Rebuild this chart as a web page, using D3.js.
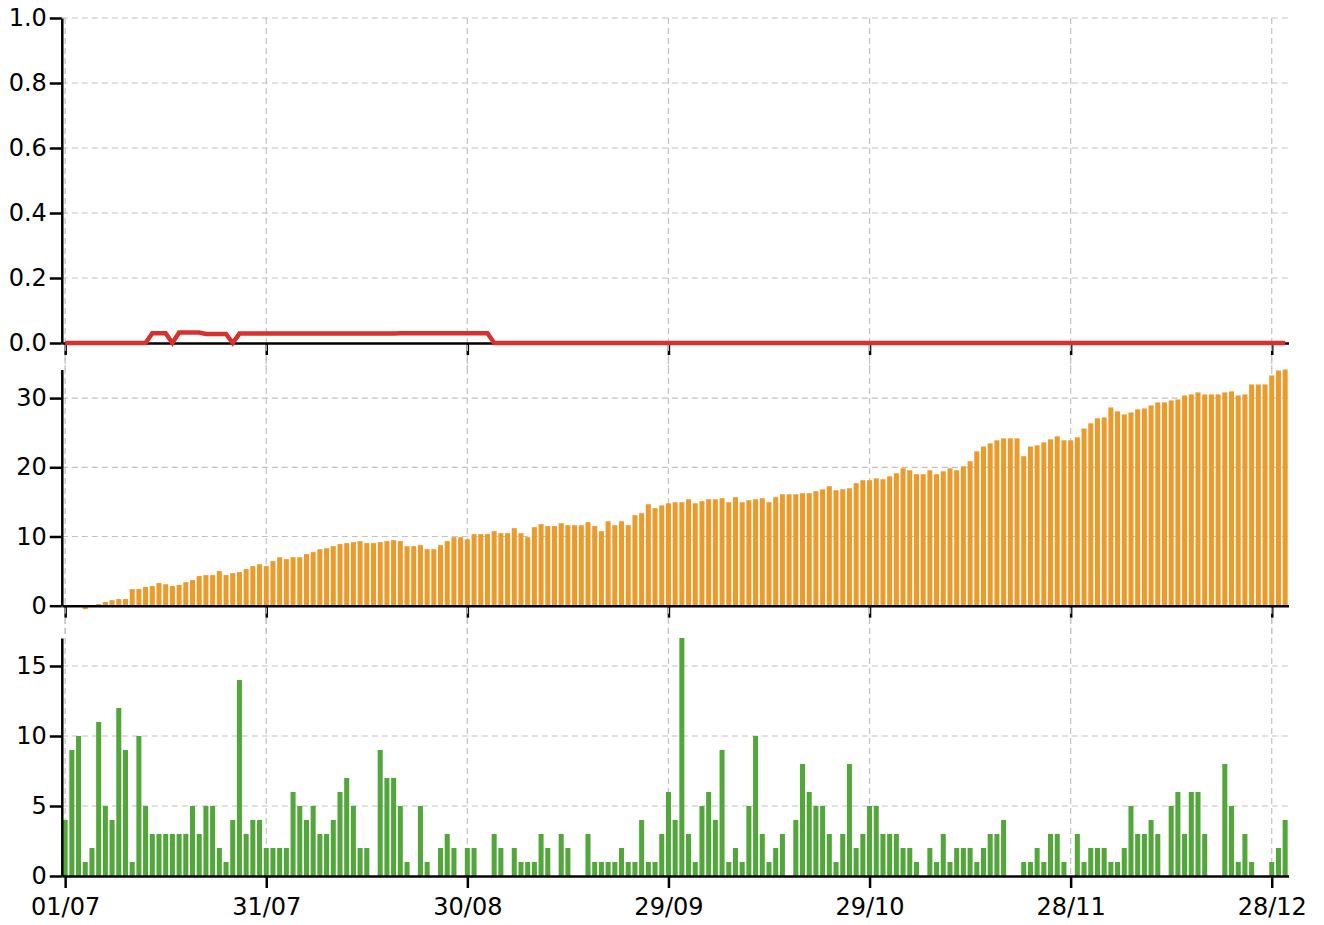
<!DOCTYPE html>
<html>
<head>
<meta charset="utf-8">
<script src="https://cdn.jsdelivr.net/npm/d3@7"></script>
<style>
body { margin: 0; background: #fff; }
svg { display: block; }
.grid line { stroke: #c2c2c2; stroke-width: 1.2; stroke-dasharray: 6,4; }
.axis path, .axis line { stroke: #000; stroke-width: 2.5; }
.axis text { font-family: "DejaVu Sans", sans-serif; font-size: 24px; fill: #000; }
</style>
</head>
<body>
<div id="chart"></div>
<script>
// first day of the series, one value per day after it
var startDate = '2019-07-01';

var ratio = [
	0,0,0,0,0,0,0,0,0,0,0,0,0,0.03,0.03,0.03,0,0.032,0.032,0.032,
	0.032,0.028,0.028,0.028,0.028,0,0.029,0.029,0.029,0.029,0.029,0.029,0.029,0.029,0.029,0.029,0.029,0.029,0.029,0.029,
	0.029,0.029,0.029,0.029,0.029,0.029,0.029,0.029,0.029,0.029,0.03,0.03,0.03,0.03,0.03,0.03,0.03,0.03,0.03,0.03,
	0.03,0.03,0.03,0.03,0,0,0,0,0,0,0,0,0,0,0,0,0,0,0,0,
	0,0,0,0,0,0,0,0,0,0,0,0,0,0,0,0,0,0,0,0,
	0,0,0,0,0,0,0,0,0,0,0,0,0,0,0,0,0,0,0,0,
	0,0,0,0,0,0,0,0,0,0,0,0,0,0,0,0,0,0,0,0,
	0,0,0,0,0,0,0,0,0,0,0,0,0,0,0,0,0,0,0,0,
	0,0,0,0,0,0,0,0,0,0,0,0,0,0,0,0,0,0,0,0,
	0,0,0
];

var level = [
	0,0,0,-0.5,0,0.24,0.53,0.8,0.96,0.96,2.4,2.4,2.7,2.84,3.27,3.1,2.84,3.0,3.4,3.7,
	4.28,4.42,4.42,5.0,4.42,4.7,4.86,5.29,5.72,6.0,5.72,6.44,7.0,6.73,7.0,7.0,7.45,7.74,8.17,8.3,
	8.6,8.9,9.04,9.18,9.33,9.04,9.04,9.18,9.33,9.47,9.33,8.6,8.6,8.75,8.17,8.17,8.75,9.33,9.9,9.9,
	9.6,10.34,10.34,10.34,10.77,10.48,10.48,11.2,10.48,9.9,11.35,11.78,11.5,11.5,11.92,11.63,11.63,11.63,12.07,11.5,
	10.77,12.2,11.63,12.2,11.63,13.08,13.37,14.66,14.09,14.5,14.8,14.95,14.95,15.38,14.8,15.1,15.38,15.38,15.53,14.95,
	15.67,14.95,15.24,15.38,15.53,14.95,15.67,16.1,16.1,16.1,16.25,16.25,16.54,16.8,17.26,16.68,16.83,16.97,17.7,18.13,
	18.13,18.4,18.27,18.7,19.13,19.86,19.57,19.0,19.0,19.57,19.0,19.42,19.86,19.57,20.14,20.87,22.3,23.0,23.46,23.9,
	24.18,24.18,24.18,21.6,23.0,23.17,23.6,24.04,24.47,23.9,23.9,24.33,25.6,26.35,27.07,27.2,28.65,28.08,27.64,27.93,
	28.37,28.5,28.94,29.37,29.37,29.66,29.8,30.38,30.53,30.82,30.53,30.53,30.53,30.82,30.96,30.38,30.53,31.97,31.97,31.97,
	33.27,33.99,34.13
];

var daily = [
	4,9,10,1,2,11,5,4,12,9,1,10,5,3,3,3,3,3,3,5,
	3,5,5,2,1,4,14,3,4,4,2,2,2,2,6,5,4,5,3,3,
	4,6,7,5,2,2,0,9,7,7,5,1,0,5,1,0,2,3,2,0,
	2,2,0,0,3,2,0,2,1,1,1,3,2,0,3,2,0,0,3,1,
	1,1,1,2,1,1,4,1,1,3,6,4,17,3,1,5,6,4,9,1,
	2,1,5,10,3,1,2,3,0,4,8,6,5,5,3,1,3,8,2,3,
	5,5,3,3,3,2,2,1,0,2,1,3,1,2,2,2,1,2,3,3,
	4,0,0,1,1,2,1,3,3,1,0,3,1,2,2,2,1,1,2,5,
	3,3,4,3,0,5,6,3,6,6,3,0,0,8,5,1,3,1,0,0,
	1,2,4
];

var tickEveryDays = 30;
var ratioTicks = [0, 0.2, 0.4, 0.6, 0.8, 1.0];
var levelTicks = [0, 10, 20, 30];
var dailyTicks = [0, 5, 10, 15];

var width = 1324,
	height = 925,
	left = 61.8,
	right = 1288.5;

var day0 = d3.timeParse('%Y-%m-%d')(startDate);
var days = d3.range(daily.length).map(function(i) { return d3.timeDay.offset(day0, i); });
var lastDay = days[days.length - 1];

var x = d3.scaleTime()
	.domain([d3.timeHour.offset(day0, -12), d3.timeHour.offset(lastDay, 12)])
	.range([left, right]);

var xTicks = d3.timeDay.range(day0, d3.timeDay.offset(lastDay, 1), tickEveryDays);
var step = x(days[1]) - x(days[0]);
var barWidth = step * 0.75;

var yRatio = d3.scaleLinear().domain([0, 1]).range([343, 18]);
var yLevel = d3.scaleLinear().domain([0, d3.max(level)]).range([605.7, 369.5]);
var yDaily = d3.scaleLinear().domain([0, d3.max(daily)]).range([876, 638]);

var svg = d3.select('#chart').append('svg')
	.attr('width', width)
	.attr('height', height);

// vertical grid through all three panels
svg.append('g')
	.attr('class', 'grid')
	.selectAll('line')
	.data(xTicks)
	.enter().append('line')
	.attr('x1', function(d) { return x(d); })
	.attr('x2', function(d) { return x(d); })
	.attr('y1', 18)
	.attr('y2', 876);

function hGrid(y, ticks) {
	svg.append('g')
		.attr('class', 'grid')
		.selectAll('line')
		.data(ticks.filter(function(d) { return d !== 0; }))
		.enter().append('line')
		.attr('x1', left)
		.attr('x2', right)
		.attr('y1', function(d) { return y(d); })
		.attr('y2', function(d) { return y(d); });
}

function yAxis(y, ticks, fmt) {
	var ax = d3.axisLeft(y)
		.tickValues(ticks)
		.tickSize(12)
		.tickPadding(3)
		.tickSizeOuter(0);
	if (fmt) ax.tickFormat(fmt);
	svg.append('g')
		.attr('class', 'axis')
		.attr('transform', 'translate(' + left + ',0)')
		.call(ax)
		.attr('font-family', null)
		.attr('font-size', null);
}

function xAxis(y0, labels) {
	var ax = d3.axisBottom(x)
		.tickValues(xTicks)
		.tickSize(12)
		.tickSizeOuter(0);
	if (labels) {
		ax.tickFormat(d3.timeFormat('%d/%m')).tickPadding(10);
	} else {
		ax.tickFormat('');
	}
	svg.append('g')
		.attr('class', 'axis')
		.attr('transform', 'translate(0,' + y0 + ')')
		.call(ax)
		.attr('font-family', null)
		.attr('font-size', null);
}

hGrid(yRatio, ratioTicks);
hGrid(yLevel, levelTicks);
hGrid(yDaily, dailyTicks);

// middle panel bars
svg.append('g')
	.selectAll('rect')
	.data(level)
	.enter().append('rect')
	.attr('x', function(d, i) { return x(days[i]) - barWidth / 2; })
	.attr('y', function(d) { return yLevel(Math.max(0, d)); })
	.attr('width', barWidth)
	.attr('height', function(d) { return Math.abs(yLevel(d) - yLevel(0)); })
	.style('fill', '#ec9b2a');

// bottom panel bars
svg.append('g')
	.selectAll('rect')
	.data(daily)
	.enter().append('rect')
	.attr('x', function(d, i) { return x(days[i]) - barWidth / 2; })
	.attr('y', function(d) { return yDaily(d); })
	.attr('width', barWidth)
	.attr('height', function(d) { return yDaily(0) - yDaily(d); })
	.style('fill', '#52a73a');

yAxis(yRatio, ratioTicks, d3.format('.1f'));
yAxis(yLevel, levelTicks);
yAxis(yDaily, dailyTicks);

xAxis(yRatio(0), false);
xAxis(yLevel(0), false);
xAxis(yDaily(0), true);

// grid shows through the unlabelled ticks between panels
[[343, 369.5], [605.7, 638]].forEach(function(gap) {
	svg.append('g')
		.attr('class', 'grid')
		.selectAll('line')
		.data(xTicks)
		.enter().append('line')
		.attr('x1', function(d) { return x(d); })
		.attr('x2', function(d) { return x(d); })
		.attr('y1', gap[0] + 2)
		.attr('y2', gap[1]);
});

var line = d3.line()
	.x(function(d, i) { return x(days[i]); })
	.y(function(d) { return yRatio(d); });

svg.append('path')
	.datum(ratio)
	.attr('d', line)
	.style('fill', 'none')
	.style('stroke', '#d8302f')
	.style('stroke-width', 4.5);
</script>
</body>
</html>
